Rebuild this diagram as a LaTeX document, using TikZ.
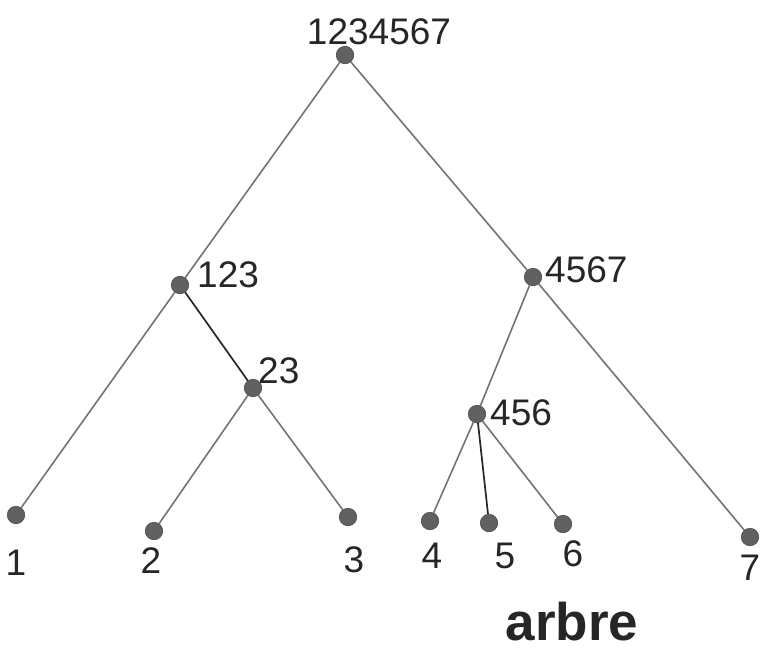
\documentclass[tikz,border=0pt]{standalone}
\usepackage{fontspec}
\setmainfont{Liberation Sans}
\begin{document}
\begin{tikzpicture}[x=1pt,y=-1pt,
  dot/.style={circle,fill=black!62,draw=black!70,line width=0.6pt,minimum size=17.5pt,inner sep=0pt},
  edge/.style={draw=black!55,line width=1.6pt},
  dark/.style={draw=black!85,line width=1.7pt},
  lab/.style={inner sep=0pt,font=\fontsize{37}{40}\selectfont,text=black!85},
  title/.style={inner sep=0pt,font=\fontsize{53}{58}\selectfont\bfseries,text=black!85}]
\useasboundingbox (0,0) rectangle (761,653);
% dots
\node[dot] (r) at (345,55) {};
\node[dot] (a) at (180,285) {};
\node[dot] (b) at (533,277) {};
\node[dot] (c) at (253,388) {};
\node[dot] (d) at (477,414) {};
\node[dot] (l1) at (16,515) {};
\node[dot] (l2) at (154,531) {};
\node[dot] (l3) at (348,517) {};
\node[dot] (l4) at (430,521) {};
\node[dot] (l5) at (489,523) {};
\node[dot] (l6) at (563,524) {};
\node[dot] (l7) at (750,537) {};
% edges
\draw[edge] (r) -- (a);
\draw[edge] (r) -- (b);
\draw[edge] (a) -- (l1);
\draw[dark] (a) -- (c);
\draw[edge] (c) -- (l2);
\draw[edge] (c) -- (l3);
\draw[edge] (b) -- (d);
\draw[edge] (b) -- (l7);
\draw[edge] (d) -- (l4);
\draw[dark] (d) -- (l5);
\draw[edge] (d) -- (l6);
% labels
\node[lab,anchor=base] (tr) at (379,45) {1234567};
\node[lab,anchor=base west] (ta) at (197,287) {123};
\node[lab,anchor=base west] (tc) at (258,383) {23};
\node[lab,anchor=base west] (tb) at (545,282) {4567};
\node[lab,anchor=base west] (td) at (490,425) {456};
\node[lab,anchor=base] (t1) at (16,575) {1};
\node[lab,anchor=base] (t2) at (151,573) {2};
\node[lab,anchor=base] (t3) at (354,572) {3};
\node[lab,anchor=base] (t4) at (432,568) {4};
\node[lab,anchor=base] (t5) at (505,568) {5};
\node[lab,anchor=base] (t6) at (573,566) {6};
\node[lab,anchor=base] (t7) at (750,580) {7};
\node[title,anchor=base] (arbre) at (572,640) {arbre};
\end{tikzpicture}
\end{document}
